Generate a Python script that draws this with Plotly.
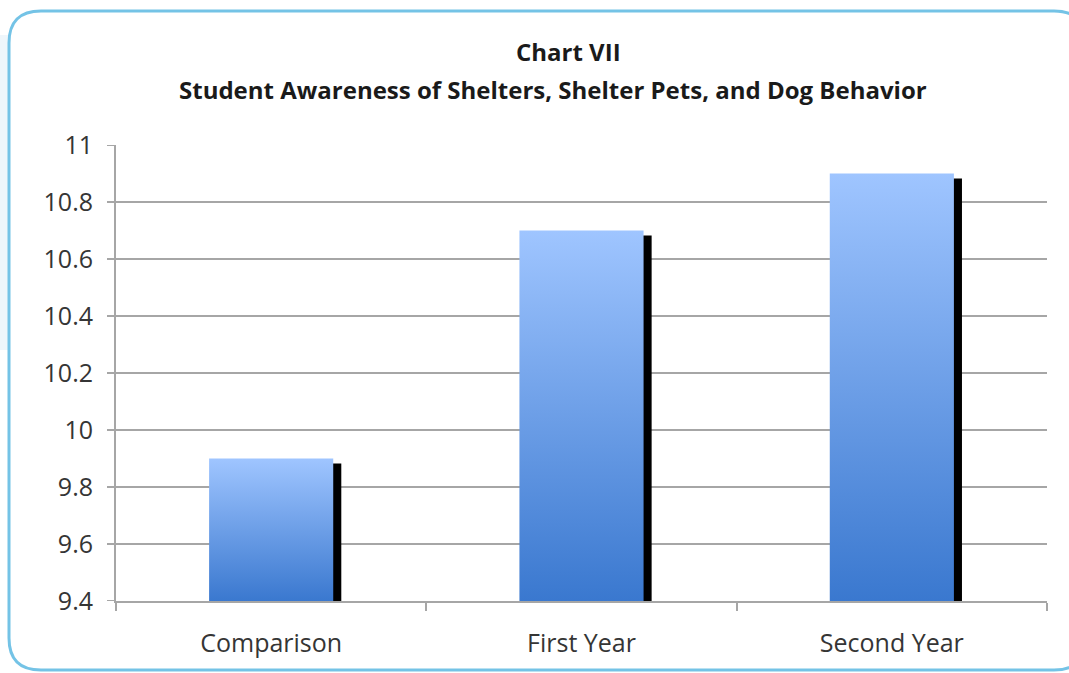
import plotly.graph_objects as go

categories = ["Comparison", "First Year", "Second Year"]
values = [9.9, 10.7, 10.9]
y_ticks = [9.4, 9.6, 9.8, 10, 10.2, 10.4, 10.6, 10.8, 11]
y_tick_labels = ["9.4", "9.6", "9.8", "10", "10.2", "10.4", "10.6", "10.8", "11"]
title_lines = ["Chart VII", "Student Awareness of Shelters, Shelter Pets, and Dog Behavior"]

Y_MIN, Y_MAX = 9.4, 11.0
BAR_W = 0.4
SHADOW_DX = 0.026
SHADOW_DY = 0.0175
TOP_COLOR = "#9fc5ff"
BOTTOM_COLOR = "#3a78cf"
FONT = "Open Sans"
W, H = 1069, 673
ML, MR, MT, MB = 116, 22, 145, 72

fig = go.Figure()
idx = list(range(len(categories)))

# shadows (behind the bars, offset to the lower right)
for i, v in enumerate(values):
    fig.add_trace(go.Scatter(
        x=[i - BAR_W / 2 + SHADOW_DX, i + BAR_W / 2 + SHADOW_DX, i + BAR_W / 2 + SHADOW_DX,
           i - BAR_W / 2 + SHADOW_DX, i - BAR_W / 2 + SHADOW_DX],
        y=[Y_MIN, Y_MIN, v - SHADOW_DY, v - SHADOW_DY, Y_MIN],
        mode="lines", line=dict(width=0), fill="toself", fillcolor="#000000",
        hoverinfo="skip", showlegend=False,
    ))

# gradient bars
for i, (cat, v) in enumerate(zip(categories, values)):
    fig.add_trace(go.Scatter(
        x=[i - BAR_W / 2, i + BAR_W / 2, i + BAR_W / 2, i - BAR_W / 2, i - BAR_W / 2],
        y=[Y_MIN, Y_MIN, v, v, Y_MIN],
        mode="lines", line=dict(width=0), fill="toself",
        fillgradient=dict(type="vertical",
                          colorscale=[[0, BOTTOM_COLOR], [1, TOP_COLOR]]),
        name=cat, showlegend=False,
        hovertemplate=f"{cat}: {v}<extra></extra>",
    ))

grid_col = "#a6a6a6"
tick_font = dict(family=FONT, size=25, color="#353535", weight=500)
fig.update_layout(
    width=W, height=H,
    paper_bgcolor="white", plot_bgcolor="white",
    margin=dict(l=ML, r=MR, t=MT, b=MB, autoexpand=False),
    showlegend=False,
    xaxis=dict(
        range=[-0.5, 2.5], tickmode="array", tickvals=idx, ticktext=categories,
        ticks="", showgrid=False, zeroline=False,
        showline=True, linecolor=grid_col, linewidth=2,
        tickfont=tick_font,
        ticklabelstandoff=19,
        minor=dict(tickmode="array", tickvals=[-0.5, 0.5, 1.5, 2.5], ticks="outside",
                   ticklen=8, tickwidth=2, tickcolor=grid_col, showgrid=False),
        fixedrange=True, automargin=False,
    ),
    yaxis=dict(
        range=[Y_MIN, Y_MAX], tickmode="array", tickvals=y_ticks,
        ticktext=y_tick_labels,
        ticks="outside", ticklen=16, tickwidth=2, tickcolor="rgba(0,0,0,0)",
        showgrid=True, gridcolor=grid_col, gridwidth=2, zeroline=False,
        showline=True, linecolor=grid_col, linewidth=2,
        tickfont=tick_font,
        fixedrange=True, automargin=False,
    ),
)

pw, ph = W - ML - MR, H - MT - MB
def PX(x):
    return (x - ML) / pw
def PY(y):
    return (H - MB - y) / ph

# visible short tick marks on the value axis
for t in y_ticks:
    fig.add_shape(type="line", xref="paper", yref="y", x0=PX(107), x1=0, y0=t, y1=t,
                  line=dict(color=grid_col, width=2), layer="below")

# two-line title as annotations for exact placement
title_font = dict(family=FONT, size=24, color="#1a1a1a")
fig.add_annotation(text="<b>" + title_lines[0] + "</b>", xref="paper", yref="paper",
                   x=PX(568), y=PY(52), xanchor="center", yanchor="middle",
                   showarrow=False, font=title_font)
fig.add_annotation(text="<b>" + title_lines[1] + "</b>", xref="paper", yref="paper",
                   x=PX(553), y=PY(89), xanchor="center", yanchor="middle",
                   showarrow=False, font=title_font)

# pale decoration left of the frame
fig.add_shape(type="rect", xref="paper", yref="paper",
              x0=PX(0), x1=PX(9), y0=PY(35), y1=PY(350),
              fillcolor="#eef6fb", line=dict(width=0), layer="below")

# rounded frame around the chart
L, T, R, B, rad = 9, 11, 1086, 670, 32
def P(x, y):
    return f"{PX(x):.5f},{PY(y):.5f}"
path = (f"M {P(L+rad, T)} L {P(R-rad, T)} Q {P(R, T)} {P(R, T+rad)} L {P(R, B-rad)} "
        f"Q {P(R, B)} {P(R-rad, B)} L {P(L+rad, B)} Q {P(L, B)} {P(L, B-rad)} "
        f"L {P(L, T+rad)} Q {P(L, T)} {P(L+rad, T)} Z")
fig.add_shape(type="path", xref="paper", yref="paper", path=path,
              line=dict(color="#74c3e6", width=3), layer="below")

fig.write_html("out.html", config={"displayModeBar": False},
               post_script="document.body.style.margin='0';document.body.style.overflow='hidden';")
